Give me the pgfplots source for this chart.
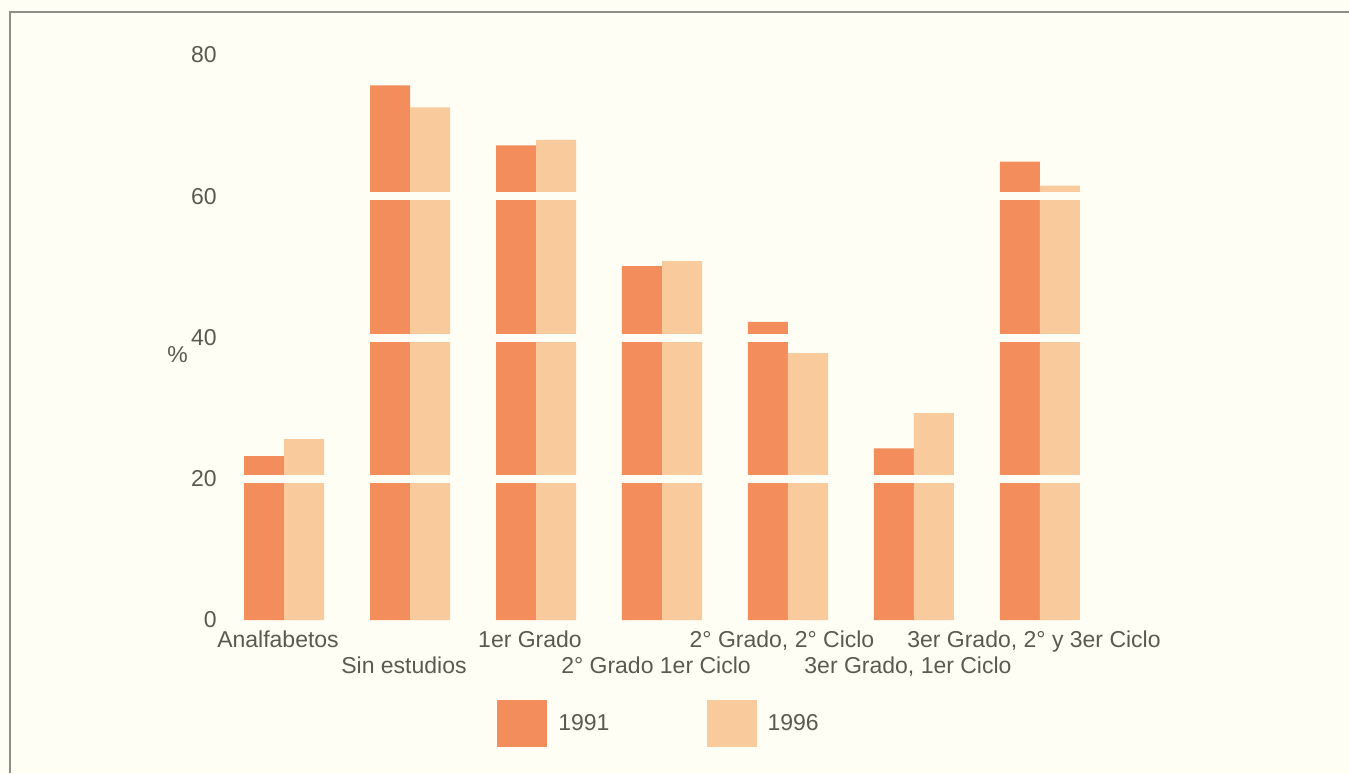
\documentclass[border=0pt]{standalone}
\usepackage{fontspec}
\setmainfont{Liberation Sans}
\usepackage{pgfplots}
\pgfplotsset{compat=1.18}
\definecolor{bg}{HTML}{FFFEF4}
\definecolor{cA}{HTML}{F38D5B}
\definecolor{cB}{HTML}{F9CB9C}
\definecolor{txt}{HTML}{5A5A4E}
\definecolor{frm}{HTML}{8E8E86}
\begin{document}
\begin{tikzpicture}[x=1pt,y=1pt]
\useasboundingbox (0,0) rectangle (674.5,386.5);
\fill[bg] (0,0) rectangle (674.5,386.5);
\draw[frm, line width=0.8pt] (5,0) -- (5,380.5) -- (674.5,380.5);
\begin{axis}[
  at={(110.5pt,76.5pt)}, anchor=south west,
  scale only axis, width=441pt, height=282.5pt,
  xmin=-0.5, xmax=6.5, ymin=0, ymax=80,
  ybar=0pt, bar width=20pt,
  axis line style={draw=none},
  major tick length=0pt,
  tick style={draw=none},
  clip=false,
  axis on top,
  ytick={0,20,40,60,80},
  extra y ticks={20,40,60},
  extra y tick labels={},
  extra y tick style={grid=major, major grid style={draw=bg, line width=4pt}},
  /pgf/number format/assume math mode=true,
  every tick label/.append style={font=\fontsize{11.5}{13.8}\selectfont, text=txt},
  yticklabel style={anchor=east, inner sep=0pt, xshift=-2pt},
  xtick={0,1,2,3,4,5,6},
  xticklabels={Analfabetos,\raisebox{-13pt}{Sin estudios},1er Grado,\raisebox{-13pt}{2° Grado 1er Ciclo},{2° Grado, 2° Ciclo},\raisebox{-13pt}{3er Grado, 1er Ciclo},{3er Grado, 2° y 3er Ciclo}},
  xticklabel style={anchor=base, yshift=-13.5pt, xshift=-3pt, inner sep=0pt},
  ylabel={\%},
  ylabel style={rotate=-90, anchor=center, at={(axis description cs:-0.0493,0.469)}, font=\fontsize{11.5}{13.8}\selectfont, text=txt},
  legend columns=2,
  legend style={at={(axis description cs:0.3129,-0.1416)}, anchor=north west, draw=none, fill=none, inner sep=0pt,
    font=\fontsize{11.5}{13.8}\selectfont, text=txt,
    /tikz/every odd column/.append style={column sep=3.5pt},
    /tikz/every even column/.append style={column sep=46.5pt}},
  every axis plot post/.append style={legend image code/.code={\fill[##1] (0pt,-11.75pt) rectangle (25pt,11.75pt);}},
]
\addplot[fill=cA, draw=none] coordinates {(0,23.2) (1,75.7) (2,67.2) (3,50.1) (4,42.2) (5,24.3) (6,64.9)};
\addlegendentry{1991}
\addplot[fill=cB, draw=none] coordinates {(0,25.6) (1,72.6) (2,68.0) (3,50.8) (4,37.8) (5,29.3) (6,61.5)};
\addlegendentry{1996}
\end{axis}
\end{tikzpicture}
\end{document}
